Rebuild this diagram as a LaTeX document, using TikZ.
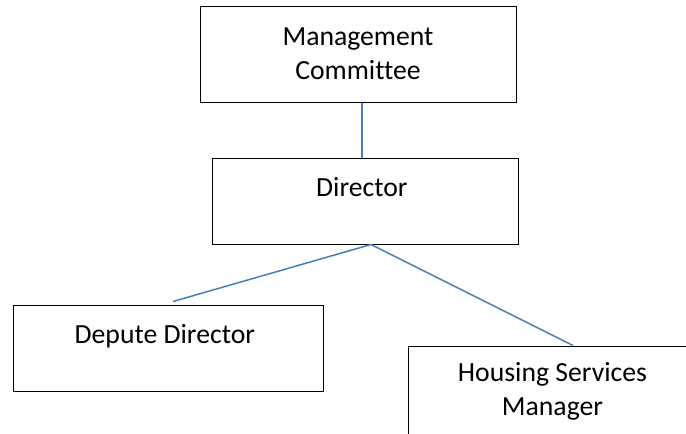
\documentclass[tikz,border=0pt]{standalone}
\usepackage{fontspec}
\setmainfont{Carlito}[Ligatures=NoCommon]
\definecolor{linkblue}{HTML}{4A7EBB}
\tikzset{
  orgbox/.style={draw, line width=1pt, inner sep=0pt, align=center,
    font=\fontsize{27.7}{34}\selectfont},
  onetext/.style={text height=38pt, text depth=48pt},
  orgline/.style={draw=linkblue, line width=1.5pt}
}

\begin{document}
\begin{tikzpicture}[x=1pt,y=-1pt]
	\clip (0,0) rectangle (686,434);
	% draw rectangle nodes
	\node[orgbox,
	minimum width=316pt,
	minimum height=96pt] (committee) at (358,54) {
	Management\\Committee
	};
	\node[orgbox, onetext,
	minimum width=306pt] (director) at (365,201) {
	Director
	};
	\node[orgbox, onetext,
	minimum width=310pt] (depute) at (168,348) {
	Depute Director
	};
	\node[orgbox,
	minimum width=289pt,
	minimum height=90pt] (housing) at (552.5,391) {
	Housing Services\\Manager
	};
	% Lines
	\coordinate (fork) at ([xshift=6pt]director.south);
	\draw[orgline] ([xshift=4pt]committee.south) -- ([xshift=4pt]committee.south |- director.north);
	\draw[orgline] (fork) -- ([xshift=5pt,yshift=3pt]depute.north)
	(fork) -- ([xshift=20.5pt]housing.north);
\end{tikzpicture}
\end{document}
